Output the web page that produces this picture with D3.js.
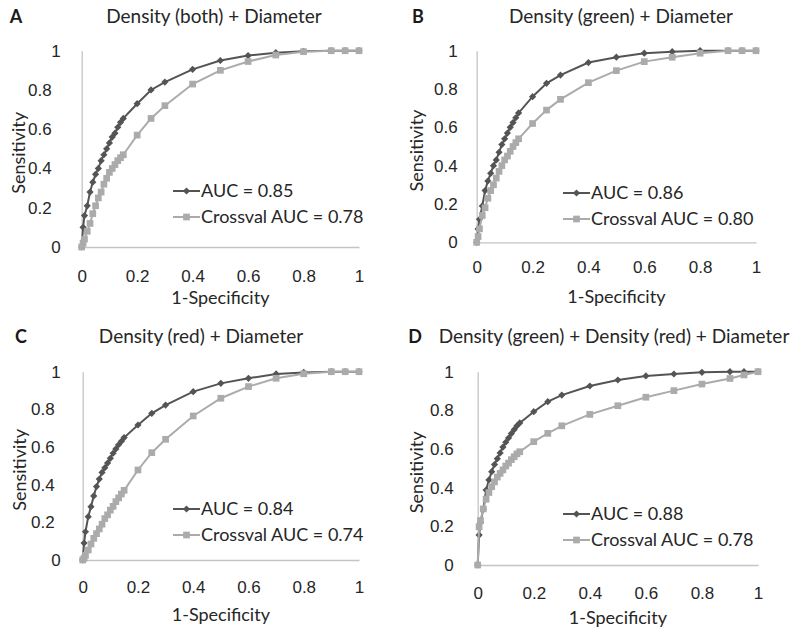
<!DOCTYPE html>
<html>
<head>
<meta charset="utf-8">
<script src="https://cdn.jsdelivr.net/npm/d3@7"></script>
<style>
  body { margin: 0; background: #fff; }
  svg { display: block; font-family: Lato, "Open Sans", sans-serif; }
  .axis text { font-size: 17px; fill: #262626; }
  .axis .domain { stroke: #c4c4c4; stroke-width: 1.3; }
  .axis line { display: none; }
  .title { font-size: 19px; fill: #262626; }
  .letter { font-size: 18px; font-weight: bold; fill: #1a1a1a; }
  .label { font-size: 18px; fill: #262626; }
  .legend text { font-size: 18px; fill: #262626; }
</style>
</head>
<body>
<div id="chart"></div>
<script>
// ---- data ----
var letters = ['A', 'B', 'C', 'D'];
var titles = [
    'Density (both) + Diameter',
    'Density (green) + Diameter',
    'Density (red) + Diameter',
    'Density (green) + Density (red) + Diameter'
];
var aucLabels = ['AUC = 0.85', 'AUC = 0.86', 'AUC = 0.84', 'AUC = 0.88'];
var cvLabels = ['Crossval AUC = 0.78', 'Crossval AUC = 0.80', 'Crossval AUC = 0.74', 'Crossval AUC = 0.78'];
var tickValues = [0, 0.2, 0.4, 0.6, 0.8, 1];

// 1-specificity (shared by all curves)
var fpr = [0, 0.005, 0.01, 0.02, 0.03, 0.04, 0.05, 0.06, 0.07, 0.08, 0.09, 0.10, 0.11, 0.12, 0.13, 0.14, 0.15,
    0.2, 0.25, 0.3, 0.4, 0.5, 0.6, 0.7, 0.8, 0.9, 0.95, 1];

// sensitivity
var sensA   = [0, 0.10, 0.16, 0.21, 0.28, 0.33, 0.37, 0.40, 0.44, 0.47, 0.50, 0.53, 0.56, 0.58, 0.61, 0.635, 0.655,
    0.73, 0.80, 0.84, 0.905, 0.95, 0.975, 0.99, 0.997, 1, 1, 1];
var sensACv = [0, 0.02, 0.04, 0.08, 0.12, 0.17, 0.21, 0.25, 0.28, 0.32, 0.35, 0.38, 0.40, 0.42, 0.44, 0.455, 0.47,
    0.57, 0.655, 0.72, 0.83, 0.90, 0.945, 0.978, 0.995, 1, 1, 1];
var sensB   = [0, 0.07, 0.12, 0.19, 0.27, 0.32, 0.36, 0.40, 0.43, 0.47, 0.51, 0.54, 0.57, 0.60, 0.625, 0.65, 0.675,
    0.76, 0.83, 0.873, 0.938, 0.966, 0.987, 0.995, 1, 1, 1, 1];
var sensBCv = [0, 0.03, 0.07, 0.14, 0.18, 0.23, 0.27, 0.30, 0.335, 0.37, 0.40, 0.43, 0.45, 0.475, 0.50, 0.52, 0.54,
    0.62, 0.69, 0.746, 0.833, 0.896, 0.943, 0.966, 0.987, 1, 1, 1];
var sensC   = [0, 0.09, 0.15, 0.23, 0.283, 0.34, 0.39, 0.43, 0.465, 0.49, 0.515, 0.54, 0.567, 0.59, 0.612, 0.63, 0.65,
    0.717, 0.779, 0.823, 0.894, 0.938, 0.965, 0.988, 0.996, 1, 1, 1];
var sensCCv = [0, 0.01, 0.025, 0.053, 0.085, 0.115, 0.14, 0.165, 0.19, 0.22, 0.24, 0.265, 0.285, 0.31, 0.33, 0.35, 0.37,
    0.478, 0.57, 0.641, 0.765, 0.859, 0.921, 0.965, 0.989, 1, 1, 1];
var sensD   = [0, 0.155, 0.22, 0.29, 0.388, 0.44, 0.483, 0.52, 0.55, 0.58, 0.61, 0.635, 0.657, 0.68, 0.70, 0.72, 0.735,
    0.793, 0.845, 0.879, 0.926, 0.957, 0.978, 0.988, 0.997, 1, 1, 1];
var sensDCv = [0, 0.198, 0.23, 0.29, 0.34, 0.375, 0.405, 0.43, 0.455, 0.474, 0.492, 0.512, 0.527, 0.545, 0.56, 0.575, 0.586,
    0.638, 0.681, 0.72, 0.779, 0.824, 0.868, 0.902, 0.936, 0.965, 0.983, 1];

var sensAll = [sensA, sensB, sensC, sensD];
var sensCvAll = [sensACv, sensBCv, sensCCv, sensDCv];

// ---- layout (pixel positions of each panel) ----
var layout = [
    { letterX: 16, titleX: 214, titleY: 23, x0: 81.7, x1: 359, y0: 247, y1: 50.7, tickY: 282, labelY: 304, sensX: 25,
      pad: 21, decShift: -9, legX: 173, legY: 191 },
    { letterX: 418, titleX: 621, titleY: 23, x0: 476.7, x1: 756, y0: 242.3, y1: 50.7, tickY: 273, labelY: 303, sensX: 423,
      pad: 19, decShift: 0, legX: 563, legY: 193 },
    { letterX: 21, titleX: 201, titleY: 343, x0: 82.7, x1: 359, y0: 560, y1: 371.7, tickY: 593, labelY: 621, sensX: 26,
      pad: 22, decShift: -6, legX: 173, legY: 509 },
    { letterX: 415, titleX: 614, titleY: 343, x0: 477.7, x1: 758, y0: 565, y1: 371.7, tickY: 599, labelY: 624, sensX: 423,
      pad: 24, decShift: 0, legX: 563, legY: 514 }
];

var width = 797, height = 635;
var darkColor = '#545454', lightColor = '#ababab';
var diamond = d3.symbol().type(d3.symbolSquare).size(26);
var square = d3.symbol().type(d3.symbolSquare).size(45);

var svg = d3.select('#chart').append('svg')
    .attr('width', width)
    .attr('height', height)
    .attr('viewBox', '0 0 ' + width + ' ' + height);

function drawSeries(g, x, y, values, color, sym, rotate) {
    var pts = fpr.map(function (f, i) { return [f, values[i]]; });
    var line = d3.line()
        .x(function (d) { return x(d[0]); })
        .y(function (d) { return y(d[1]); });

    g.append('path')
        .datum(pts)
        .attr('fill', 'none')
        .attr('stroke', color)
        .attr('stroke-width', 2)
        .attr('d', line);

    g.selectAll(null).data(pts).enter().append('path')
        .attr('d', sym)
        .attr('fill', color)
        .attr('transform', function (d) {
            return 'translate(' + x(d[0]) + ',' + y(d[1]) + ')' + (rotate ? ' rotate(45)' : '');
        });
}

layout.forEach(function (p, i) {
    var x = d3.scaleLinear().domain([0, 1]).range([p.x0, p.x1]);
    var y = d3.scaleLinear().domain([0, 1]).range([p.y0, p.y1]);
    var g = svg.append('g');

    g.append('text').attr('class', 'letter')
        .attr('x', p.letterX).attr('y', p.titleY)
        .attr('text-anchor', 'middle')
        .text(letters[i]);

    g.append('text').attr('class', 'title')
        .attr('x', p.titleX).attr('y', p.titleY)
        .attr('text-anchor', 'middle')
        .text(titles[i]);

    var yAxis = d3.axisLeft(y)
        .tickValues(tickValues)
        .tickFormat(d3.format('~g'))
        .tickSize(0)
        .tickPadding(p.pad);

    var gy = g.append('g').attr('class', 'axis')
        .attr('transform', 'translate(' + p.x0 + ',0)')
        .call(yAxis);
    gy.selectAll('.tick text')
        .attr('dx', function (d) { return (d > 0 && d < 1) ? p.decShift : 0; });

    var xAxis = d3.axisBottom(x)
        .tickValues(tickValues)
        .tickFormat(d3.format('~g'))
        .tickSize(0)
        .tickPadding(0);

    var gx = g.append('g').attr('class', 'axis')
        .attr('transform', 'translate(0,' + p.y0 + ')')
        .call(xAxis);
    gx.selectAll('.tick text')
        .attr('dy', null)
        .attr('y', p.tickY - p.y0);

    g.append('text').attr('class', 'label')
        .attr('x', (p.x0 + p.x1) / 2).attr('y', p.labelY)
        .attr('text-anchor', 'middle')
        .text('1-Specificity');

    g.append('text').attr('class', 'label')
        .attr('transform', 'translate(' + p.sensX + ',' + ((p.y0 + p.y1) / 2 + 4) + ') rotate(-90)')
        .attr('text-anchor', 'middle')
        .text('Sensitivity');

    drawSeries(g, x, y, sensAll[i], darkColor, diamond, true);
    drawSeries(g, x, y, sensCvAll[i], lightColor, square, false);

    // legend
    var leg = g.append('g').attr('class', 'legend');
    [[aucLabels[i], darkColor, diamond, true], [cvLabels[i], lightColor, square, false]].forEach(function (e, k) {
        var ly = p.legY + k * 26;
        leg.append('line')
            .attr('x1', p.legX).attr('x2', p.legX + 27)
            .attr('y1', ly).attr('y2', ly)
            .attr('stroke', e[1]).attr('stroke-width', 2);
        leg.append('path')
            .attr('d', e[2])
            .attr('fill', e[1])
            .attr('transform', 'translate(' + (p.legX + 13.5) + ',' + ly + ')' + (e[3] ? ' rotate(45)' : ''));
        leg.append('text')
            .attr('x', p.legX + 28).attr('y', ly + 6)
            .text(e[0]);
    });
});
</script>
</body>
</html>
